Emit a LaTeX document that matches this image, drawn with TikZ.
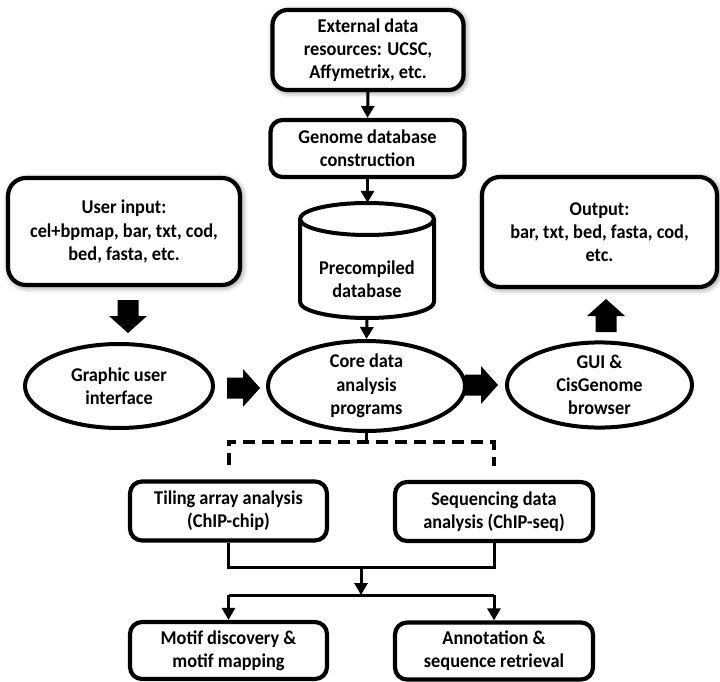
\documentclass[tikz,border=0pt]{standalone}
\usepackage{fontspec}
\setmainfont{Carlito}[FakeStretch=0.94]
\usetikzlibrary{shapes.geometric,arrows.meta,shadows.blur,calc}
\begin{document}
\begin{tikzpicture}[x=1pt,y=-1pt,
  txt/.style={font=\fontsize{19.5}{23.3}\selectfont\bfseries, align=center},
  rbox/.style={txt, draw, line width=4.2pt, rounded corners=12pt, inner sep=0pt, fill=white},
  bigbox/.style={rbox, rounded corners=18pt, blur shadow={shadow xshift=1.5pt, shadow yshift=-1.5pt, shadow blur radius=6pt, shadow opacity=60}},
  oval/.style={txt, draw, ellipse, line width=4pt, inner sep=0pt},
  conn/.style={line width=3pt, line join=miter},
  arr/.style={conn, -{Triangle[length=12pt,width=13pt]}},
  dashline/.style={line width=4pt, dash pattern=on 12pt off 7pt, line join=miter},
  bigarrow/.pic={\fill (0,10.5)--(16,10.5)--(16,19)--(33,0)--(16,-19)--(16,-10.5)--(0,-10.5)--cycle;}
]
\useasboundingbox (0,0) rectangle (720,682);

% top boxes
\node[bigbox, minimum width=191, minimum height=80, rounded corners=15pt] (ext) at (368,50) {External data\\resources: UCSC,\\Affymetrix, etc.};
\node[rbox, minimum width=194, minimum height=57] (gen) at (367.5,148.5) {Genome database\\construction};

% cylinder
\node[minimum width=134, minimum height=115, inner sep=0pt] (db) at (367,260.5) {};
\draw[line width=4pt, fill=white] (300,219) -- (300,302) arc[start angle=180, end angle=360, x radius=67pt, y radius=16pt] -- (434,219);
\draw[line width=4pt] (367,219) ellipse [x radius=67pt, y radius=16pt];
\node[txt] (dbt) at (367,279) {Precompiled\\database};

\node[bigbox, minimum width=232, minimum height=107] (user) at (124,231.5) {User input:\\cel+bpmap, bar, txt, cod,\\bed, fasta, etc.};
\node[bigbox, minimum width=235, minimum height=110] (out) at (599.5,232) {Output:\\bar, txt, bed, fasta, cod,\\etc.};

% ellipses
\node[oval, minimum width=188, minimum height=84] (gui1) at (119,386) {Graphic user\\interface};
\node[oval, minimum width=197, minimum height=84] (core) at (366.5,386) {Core data\\analysis\\programs};
\node[oval, minimum width=185, minimum height=84] (gui2) at (599.5,385) {GUI \&\\CisGenome\\browser};

% bottom boxes
\node[rbox, minimum width=197, minimum height=59] (tiling) at (228.5,511) {Tiling array analysis\\(ChIP-chip)};
\node[rbox, minimum width=198, minimum height=59] (seq) at (494,511.5) {Sequencing data\\analysis (ChIP-seq)};
\node[rbox, minimum width=197, minimum height=57] (motif) at (228.5,650.5) {Motif discovery \&\\motif mapping};
\node[rbox, minimum width=198, minimum height=57] (annot) at (494,651) {Annotation \&\\sequence retrieval};

% block arrows
\pic[rotate=-90] at (128,300) {bigarrow};
\pic at (227,388) {bigarrow};
\pic at (465,385) {bigarrow};
\pic[rotate=90] at (606,332) {bigarrow};

% thin connectors
\draw[arr] (ext.south) -- (gen.north);
\draw[arr] (gen.south) -- (gen.south |- db.north);
\draw[arr] (db.south) -- (core.north);

\coordinate (split) at (366.5,442);
\draw[conn] (core.south) -- (split);
\coordinate (tl) at ($(tiling.north)+(0,-14)$);
\coordinate (sl) at ($(seq.north)+(0,-14)$);
\draw[dashline] (tl) -- (tl |- split) -- (sl |- split) -- (sl);

\coordinate (m) at (361,567);
\coordinate (b) at (361,595);
\draw[conn] (tiling.south) -- (tiling.south |- m) -- (seq.south |- m) -- (seq.south);
\draw[arr] (m) -- (b);
\draw[conn] (motif.north |- b) -- (annot.north |- b);
\draw[arr] (motif.north |- b) -- (motif.north);
\draw[arr] (annot.north |- b) -- (annot.north);
\end{tikzpicture}
\end{document}
